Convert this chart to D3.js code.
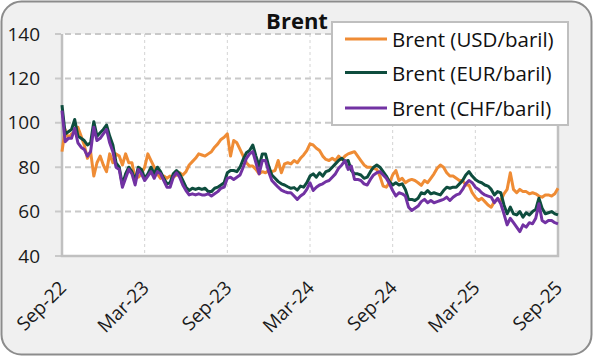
<!DOCTYPE html>
<html><head><meta charset="utf-8">
<script src="https://cdn.jsdelivr.net/npm/d3@7"></script>
<style>
body{margin:0;background:#fff;}
svg{display:block;font-family:"Open Sans",sans-serif;}
</style>
</head><body>
<svg id="chart" width="593" height="356"></svg>
<script>
const title = "Brent";
const xTickLabels = ["Sep-22","Mar-23","Sep-23","Mar-24","Sep-24","Mar-25","Sep-25"];
const yTickValues = [40,60,80,100,120,140];
const seriesNames = ["Brent (USD/baril)","Brent (EUR/baril)","Brent (CHF/baril)"];

const usd = [87,97,93,95,96,98,94,90,84,87,76,82,85,81,78,86,82,86,85,81,86,82,82,75,75.5,77,80,86,83,80,77,75,76,75,76,75.5,76.5,77.5,76.5,78,
81,82.5,84,86,85.5,85,86,87,89,90.5,92.5,93.5,95,85,92,91,88,85,82,80.5,80.5,79,77,78,77.5,78.5,78,78.5,83,77.5,81.5,82,81.5,83,82,84,85.5,87.5,90.5,90,
88.5,87.5,85,83.5,83,84,83,85,83.5,85,86,86.5,87,85,83,81,80,80,79.5,79,76,71.5,71,73,76.5,78.5,74,75,73,74,74.5,74,73,71.8,74,73,75,77,79.5,
81,80,77.5,76,76,75,74,74,72,72,68.5,66.5,65,66,64.5,63,62,64.5,65.5,65,68,70,77.5,70,68.5,70,69,69,68,68.5,68,67,66.5,67.5,67.5,67,68,70.5];

const eur = [108,95,96,97,101.5,94,93,92,90,91,100.5,94,95.5,97,99,94,90,82,80,72,77,80,78,74,80,79,75,77,80,77,80,78,75,72.5,73,77,78.5,77,74,71,
69.5,70.5,70,70.5,70,70.5,69,69,70.5,71,72,73,77.5,78.5,78.5,78,80,83.5,86.5,87.5,90,85,80.5,86,86,80.5,76.5,75,73.5,72.5,72,71.2,70.5,70.8,69.7,71.5,71,73,76,77,
75.5,77.5,76,78,78.5,80,81.5,83,84,82.5,83,78.5,77,77,76.5,75,75.5,78,80,81,80,78,76,73.5,72,73,72,72.5,70,65.5,65.5,65,66,68.5,68,69.5,68,68.5,68,
67.5,69.5,71,70.5,71,71,72.5,74,76.5,78,76,74.5,73.5,73,72,71.5,70,67.5,69,68.5,63,59,62,59,58.5,60,57.5,59.5,58.5,60,61,66,61.5,59,59.5,60,59,58.5];

const chf = [105.5,91.5,93,93,97.5,91,89,88,85,87,98,92,93,95,97,91,87,80,79,71,75,79,77,72,79,77,74,76,78,75,78,77,74,71,71,75.5,77.5,75.5,72,69.5,
67.5,68,67.5,68,67.5,67.5,68,67,68,69,70.5,71,75,75.5,74.5,75.5,76.5,80,84,86,87,82,77,83,83,78,74,72.5,71,69.7,69,68.5,68.5,67,65.5,67,68,70,73,69.5,
71,72,72.5,73.5,74,75.5,77,79.5,81,83,79,80.5,74.5,74.5,74,72.5,72,74.5,76.5,77.5,78,76.5,75,72.5,69.5,67,68.5,68,67,62,60.5,61.5,62.5,64.5,65.5,64,65,64,64.5,
65,65.5,66.5,65,66.5,67.5,68,70,72.5,74,73,71,70,68.5,67.5,67,66.5,64,66,63.5,59,54,57,55,53,51,54,53,55,54.5,57,63.5,56,55,56,56,55,54.5];

const colors = ["#ef8c35","#0e4d3e","#7232a3"];
const series = [usd, eur, chf];

const W = 593, H = 356;
const plot = {left:62, right:558, top:34, bottom:256};
const svg = d3.select("#chart");

// background panel
svg.append("rect").attr("x",1.5).attr("y",1.5).attr("width",W-3).attr("height",H-3)
  .attr("rx",20).attr("ry",20).attr("fill","#f0f0f0").attr("stroke","#8c8c8c").attr("stroke-width",2);

// plot area
svg.append("rect").attr("x",plot.left).attr("y",plot.top)
  .attr("width",plot.right-plot.left).attr("height",plot.bottom-plot.top).attr("fill","#ffffff");

const y = d3.scaleLinear().domain([40,140]).range([plot.bottom, plot.top]);
const xIdx = d3.scaleLinear().domain([0, usd.length-1]).range([plot.left, plot.right]);
const xTick = d3.scalePoint().domain(xTickLabels).range([plot.left, plot.right]);

// vertical grid
svg.append("g").selectAll("line").data(xTickLabels.slice(1, -1)).join("line")
  .attr("x1",d=>xTick(d)).attr("x2",d=>xTick(d)).attr("y1",plot.top).attr("y2",plot.bottom)
  .attr("stroke","#d4d4d4").attr("stroke-width",1).attr("stroke-dasharray","3,3");

// horizontal grid
svg.append("g").selectAll("line").data(yTickValues).join("line")
  .attr("x1",55).attr("x2",d=> d===40 ? plot.left : plot.right)
  .attr("y1",d=>y(d)).attr("y2",d=>y(d))
  .attr("stroke","#c9c9c9").attr("stroke-width",2).attr("stroke-dasharray","6,4");

// frame (left, bottom, right)
svg.append("path").attr("d",`M${plot.left},${plot.top}V${plot.bottom}H${plot.right}V${plot.top}`)
  .attr("fill","none").attr("stroke","#c0c0c0").attr("stroke-width",2.5);

// y axis labels
const yAxis = svg.append("g").attr("transform",`translate(${plot.left},0)`)
  .call(d3.axisLeft(y).tickValues(yTickValues).tickSize(0).tickPadding(22));
yAxis.select(".domain").remove();
yAxis.selectAll("text").attr("font-size",19).attr("fill","#1a1a1a").attr("font-family","Open Sans");

// x axis labels
const xAxis = svg.append("g").attr("transform",`translate(0,${plot.bottom})`)
  .call(d3.axisBottom(xTick).tickSize(0));
xAxis.select(".domain").remove();
xAxis.selectAll("text")
  .attr("font-size",19).attr("fill","#1a1a1a").attr("font-family","Open Sans")
  .attr("text-anchor","end").attr("dy",null).attr("y",0)
  .attr("transform","translate(5,33) rotate(-45)");

// lines
const line = d3.line().x((d,i)=>xIdx(i)).y(d=>y(d)).curve(d3.curveLinear);
series.forEach((s,k)=>{
  svg.append("path").datum(s).attr("d",line).attr("fill","none")
    .attr("stroke",colors[k]).attr("stroke-width",3).attr("stroke-linejoin","round");
});

// title
svg.append("text").attr("x",297).attr("y",20).attr("text-anchor","middle")
  .attr("dominant-baseline","central").attr("font-weight","bold").attr("font-size",22)
  .attr("fill","#111").text(title);

// legend
const lg = svg.append("g");
lg.append("rect").attr("x",332).attr("y",22).attr("width",236).attr("height",103)
  .attr("fill","#ffffff").attr("stroke","#bfbfbf").attr("stroke-width",2);
const ly = [39, 72.5, 108];
seriesNames.forEach((n,k)=>{
  lg.append("line").attr("x1",345).attr("x2",387).attr("y1",ly[k]).attr("y2",ly[k])
    .attr("stroke",colors[k]).attr("stroke-width",3);
  lg.append("text").attr("x",392).attr("y",ly[k]).attr("dominant-baseline","central")
    .attr("font-size",20.5).attr("fill","#111").text(n);
});
</script>
</body></html>
